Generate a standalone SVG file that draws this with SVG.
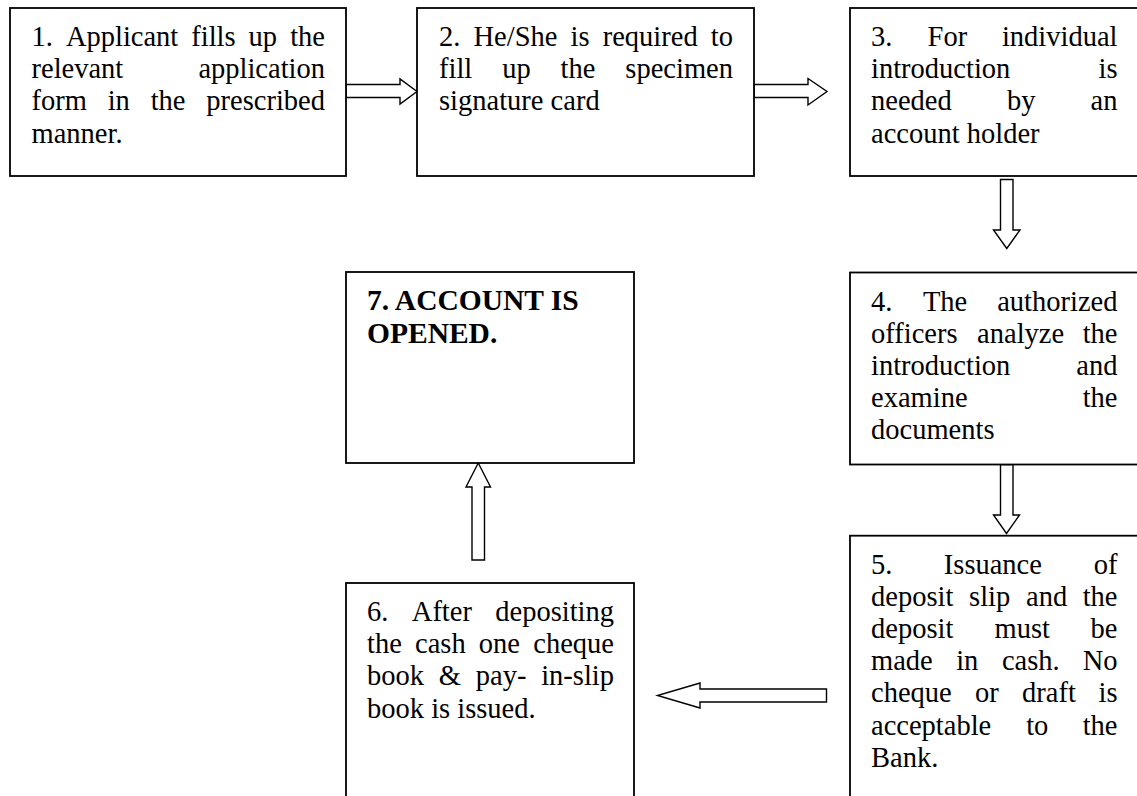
<svg xmlns="http://www.w3.org/2000/svg" width="1137" height="796" viewBox="0 0 1137 796">
<style>
.box{fill:#fff;stroke:#000;stroke-width:1.8}
.arr{fill:#fff;stroke:#000;stroke-width:1.4;stroke-linejoin:miter}
text{font-family:"Liberation Serif","Times New Roman",serif;font-size:28.5px;fill:#000}
.b{font-weight:bold;font-size:29.5px}
.e{text-anchor:end}
</style>
<rect width="1137" height="796" fill="#fff"/>
<g id="connectors">
<polygon class="arr" points="346,84.5 400,84.5 400,79 417,91.5 400,104 400,97.5 346,97.5"/>
<polygon class="arr" points="754,84.5 808,84.5 808,78.5 827,91.5 808,105 808,97.5 754,97.5"/>
<polygon class="arr" points="1000.5,179.5 1013,179.5 1013,230 1020,230 1006.75,248.5 993.5,230 1000.5,230"/>
<polygon class="arr" points="1000.5,464.5 1013,464.5 1013,515 1019.5,515 1006.5,533.5 993.5,515 1000.5,515"/>
<polygon class="arr" points="826.5,689 700,689 700,683 657.5,695.5 700,708 700,702 826.5,702"/>
<polygon class="arr" points="472,560 472,487 466,487 478.25,463 490.5,487 484.5,487 484.5,560"/>
</g>
<g id="node1">
<rect class="box" x="10" y="8" width="336" height="168"/>
<text><tspan x="31.5" y="46">1.</tspan><tspan x="65.9" y="46">Applicant</tspan><tspan x="191.3" y="46">fills</tspan><tspan x="248.6" y="46">up</tspan><tspan class="e" x="325" y="46">the</tspan></text>
<text><tspan x="31.5" y="78.2">relevant</tspan><tspan class="e" x="325" y="78.2">application</tspan></text>
<text><tspan x="31.5" y="110.4">form</tspan><tspan x="107.7" y="110.4">in</tspan><tspan x="150.7" y="110.4">the</tspan><tspan class="e" x="325" y="110.4">prescribed</tspan></text>
<text x="31.5" y="142.6">manner.</text>
</g>
<g id="node2">
<rect class="box" x="417" y="8" width="337" height="168"/>
<text><tspan x="439" y="46">2.</tspan><tspan x="473.5" y="46">He/She</tspan><tspan x="570.6" y="46">is</tspan><tspan x="602.7" y="46">required</tspan><tspan class="e" x="733" y="46">to</tspan></text>
<text><tspan x="439" y="78.2">fill</tspan><tspan x="502.2" y="78.2">up</tspan><tspan x="560.6" y="78.2">the</tspan><tspan class="e" x="733" y="78.2">specimen</tspan></text>
<text x="439" y="110.4">signature card</text>
</g>
<g id="node3">
<rect class="box" x="850" y="8" width="300" height="168"/>
<text><tspan x="871" y="46">3.</tspan><tspan x="927.6" y="46">For</tspan><tspan class="e" x="1117.5" y="46">individual</tspan></text>
<text><tspan x="871" y="78.2">introduction</tspan><tspan class="e" x="1117.5" y="78.2">is</tspan></text>
<text><tspan x="871" y="110.4">needed</tspan><tspan x="1007.1" y="110.4">by</tspan><tspan class="e" x="1117.5" y="110.4">an</tspan></text>
<text x="871" y="142.6">account holder</text>
</g>
<g id="node4">
<rect class="box" x="850" y="272.5" width="300" height="192"/>
<text><tspan x="871" y="310.5">4.</tspan><tspan x="922.9" y="310.5">The</tspan><tspan class="e" x="1117.5" y="310.5">authorized</tspan></text>
<text><tspan x="871" y="342.7">officers</tspan><tspan x="977.1" y="342.7">analyze</tspan><tspan class="e" x="1117.5" y="342.7">the</tspan></text>
<text><tspan x="871" y="374.9">introduction</tspan><tspan class="e" x="1117.5" y="374.9">and</tspan></text>
<text><tspan x="871" y="407.1">examine</tspan><tspan class="e" x="1117.5" y="407.1">the</tspan></text>
<text x="871" y="439.3">documents</text>
</g>
<g id="node5">
<rect class="box" x="850" y="535.7" width="300" height="300"/>
<text><tspan x="871" y="573.5">5.</tspan><tspan x="943.8" y="573.5">Issuance</tspan><tspan class="e" x="1117.5" y="573.5">of</tspan></text>
<text><tspan x="871" y="605.7">deposit</tspan><tspan x="969.1" y="605.7">slip</tspan><tspan x="1026.1" y="605.7">and</tspan><tspan class="e" x="1117.5" y="605.7">the</tspan></text>
<text><tspan x="871" y="637.9">deposit</tspan><tspan x="994.5" y="637.9">must</tspan><tspan class="e" x="1117.5" y="637.9">be</tspan></text>
<text><tspan x="871" y="670.1">made</tspan><tspan x="956.2" y="670.1">in</tspan><tspan x="1001.9" y="670.1">cash.</tspan><tspan class="e" x="1117.5" y="670.1">No</tspan></text>
<text><tspan x="871" y="702.3">cheque</tspan><tspan x="975" y="702.3">or</tspan><tspan x="1022" y="702.3">draft</tspan><tspan class="e" x="1117.5" y="702.3">is</tspan></text>
<text><tspan x="871" y="734.5">acceptable</tspan><tspan x="1026.2" y="734.5">to</tspan><tspan class="e" x="1117.5" y="734.5">the</tspan></text>
<text x="871" y="766.7">Bank.</text>
</g>
<g id="node6">
<rect class="box" x="346" y="583" width="288" height="300"/>
<text><tspan x="367" y="621">6.</tspan><tspan x="411.8" y="621">After</tspan><tspan class="e" x="614" y="621">depositing</tspan></text>
<text><tspan x="367" y="653.2">the</tspan><tspan x="415" y="653.2">cash</tspan><tspan x="478.8" y="653.2">one</tspan><tspan class="e" x="614" y="653.2">cheque</tspan></text>
<text><tspan x="367" y="685.4">book</tspan><tspan x="438.8" y="685.4">&amp;</tspan><tspan x="475.8" y="685.4">pay-</tspan><tspan class="e" x="614" y="685.4">in-slip</tspan></text>
<text x="367" y="717.6">book is issued.</text>
</g>
<g id="node7">
<rect class="box" x="346" y="272" width="288" height="191"/>
<text class="b" x="367" y="310">7. ACCOUNT IS</text>
<text class="b" x="367" y="342.5">OPENED.</text>
</g>
</svg>
